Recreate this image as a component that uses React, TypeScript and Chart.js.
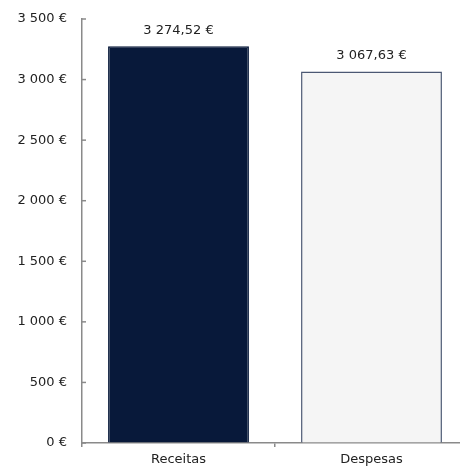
import React, { useEffect, useRef } from "react";
import { Chart, registerables } from "chart.js";

Chart.register(...registerables);

const categories = ["Receitas", "Despesas"];
const values = [3274.52, 3067.63];
const barColors = ["#08193a", "#f5f5f5"];
const barBorders = ["#08193a", "#4b5873"];
const yMax = 3500;
const yStep = 500;

const FONT = "'DejaVu Sans', sans-serif";
const AXIS = "#8a8a8a";
const TEXT = "#222222";

function fmtInt(v: number): string {
  const s = Math.round(v).toString();
  return s.replace(/\B(?=(\d{3})+(?!\d))/g, " ") + " €";
}
function fmtDec(v: number): string {
  const [i, d] = v.toFixed(2).split(".");
  return i.replace(/\B(?=(\d{3})+(?!\d))/g, " ") + "," + d + " €";
}

const extras = {
  id: "extras",
  afterDatasetsDraw(chart: any) {
    const ctx = chart.ctx;
    const y = chart.scales.y;
    ctx.save();
    ctx.strokeStyle = AXIS;
    ctx.lineWidth = 1.5;
    y.ticks.forEach((t: any) => {
      const py = y.getPixelForValue(t.value);
      ctx.beginPath();
      ctx.moveTo(y.right, py);
      ctx.lineTo(y.right + 4, py);
      ctx.stroke();
    });
    const meta = chart.getDatasetMeta(0);
    ctx.fillStyle = TEXT;
    ctx.font = `13px ${FONT}`;
    ctx.textAlign = "center";
    ctx.textBaseline = "middle";
    meta.data.forEach((bar: any, i: number) => {
      ctx.fillText(fmtDec(values[i]), bar.x, bar.y - 16);
    });
    ctx.restore();
  },
};

export default function App() {
  const ref = useRef<HTMLCanvasElement>(null);
  useEffect(() => {
    if (!ref.current) return;
    const chart = new Chart(ref.current, {
      type: "bar",
      data: {
        labels: categories,
        datasets: [
          {
            data: values,
            backgroundColor: barColors,
            borderColor: barBorders,
            borderWidth: 1.5,
            borderSkipped: "bottom",
            barPercentage: 0.73,
            categoryPercentage: 1,
          },
        ],
      },
      options: {
        animation: false,
        responsive: false,
        devicePixelRatio: 1,
        layout: { padding: { top: 19, right: 2, left: 0, bottom: 0 } },
        plugins: { legend: { display: false }, tooltip: { enabled: false } },
        scales: {
          x: {
            grid: {
              display: true,
              drawOnChartArea: false,
              drawTicks: true,
              tickLength: 4,
              color: AXIS,
              lineWidth: 1.5,
            },
            border: { display: true, color: AXIS, width: 1.5 },
            ticks: {
              color: TEXT,
              font: { family: FONT, size: 13 },
              padding: 5,
            },
            afterFit: (s: any) => {
              s.height = 27;
            },
          },
          y: {
            min: 0,
            max: yMax,
            grid: {
              display: true,
              drawOnChartArea: false,
              drawTicks: true,
              tickLength: 13,
              color: "rgba(0,0,0,0)",
            },
            border: { display: true, color: AXIS, width: 1.5 },
            ticks: {
              stepSize: yStep,
              color: TEXT,
              font: { family: FONT, size: 13 },
              padding: 2,
              callback: (v: any) => fmtInt(Number(v)),
            },
            afterFit: (s: any) => {
              s.width = 82;
            },
          },
        },
      },
      plugins: [extras],
    });
    return () => chart.destroy();
  }, []);
  return (
    <div
      style={{
        position: "absolute",
        left: 0,
        top: 0,
        width: 460,
        height: 470,
        overflow: "hidden",
        background: "#ffffff",
      }}
    >
      <canvas ref={ref} width={470} height={470} style={{ display: "block" }} />
    </div>
  );
}
